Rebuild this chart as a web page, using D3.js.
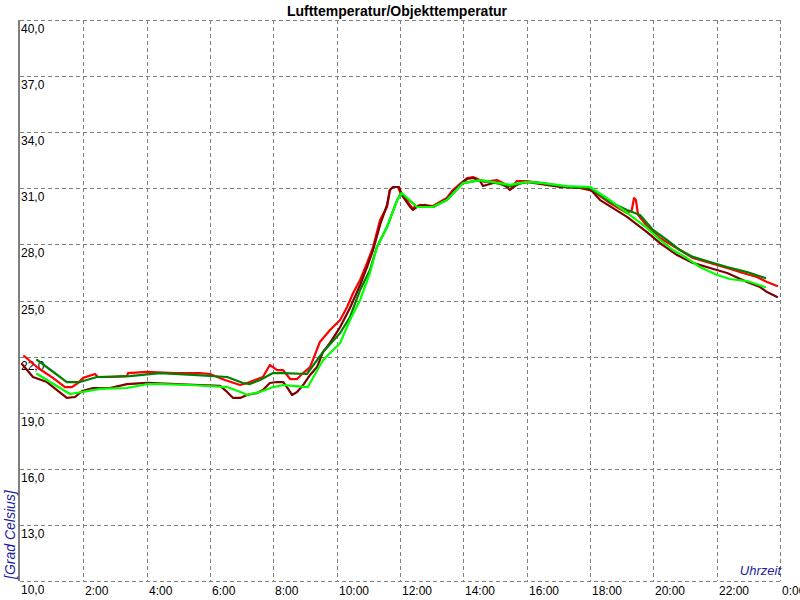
<!DOCTYPE html>
<html><head><meta charset="utf-8">
<script src="https://cdn.jsdelivr.net/npm/d3@7"></script>
<style>
html,body{margin:0;padding:0;background:#fff;}
svg{display:block;}
text{font-family:"Liberation Sans",Arial,sans-serif;}
</style></head>
<body>
<svg id="c" width="800" height="600"></svg>
<script>
const title = "Lufttemperatur/Objekttemperatur";
const yAxisTitle = "[Grad Celsius]";
const xAxisTitle = "Uhrzeit";
const yTicks = [10,13,16,19,22,25,28,31,34,37,40];
const yTickLabels = ["10,0","13,0","16,0","19,0","22,0","25,0","28,0","31,0","34,0","37,0","40,0"];
const xTicks = [2,4,6,8,10,12,14,16,18,20,22,24];
const xTickLabels = ["2:00","4:00","6:00","8:00","10:00","12:00","14:00","16:00","18:00","20:00","22:00","0:00"];

// [hour, °C]
const redSeries = [[0.13,22.03],[0.57,21.39],[1.04,20.86],[1.42,20.37],[1.64,20.37],[1.83,20.59],[1.99,20.86],[2.37,21.07],[2.46,20.91],[2.84,20.91],[3.38,20.96],[3.41,21.12],[4.01,21.18],[4.89,21.12],[5.68,21.12],[6.0,21.07],[6.47,20.75],[6.95,20.48],[7.17,20.59],[7.67,20.91],[7.89,21.55],[8.12,21.28],[8.31,21.28],[8.53,20.8],[8.75,20.8],[8.94,21.12],[9.16,21.44],[9.47,22.78],[9.79,23.42],[10.11,23.96],[10.33,24.65],[10.52,25.4],[10.74,26.1],[10.96,27.01],[11.15,27.86],[11.37,29.3],[11.59,30.0],[11.68,30.91],[11.78,31.07],[11.94,31.07],[12.0,30.8],[12.16,30.48],[12.38,29.95],[12.63,30.11],[13.04,30.05],[13.26,30.27],[13.48,30.48],[13.67,30.91],[13.89,31.23],[14.12,31.55],[14.31,31.6],[14.53,31.44],[14.68,31.34],[14.84,31.39],[15.06,31.44],[15.38,31.18],[15.54,31.07],[15.69,31.39],[16.01,31.39],[16.42,31.28],[17.05,31.12],[17.68,31.02],[18.09,30.86],[18.63,30.21],[19.17,29.68],[19.32,29.84],[19.39,30.48],[19.45,30.37],[19.52,29.57],[19.8,28.98],[20.21,28.34],[20.84,27.7],[21.25,27.27],[21.79,27.01],[22.33,26.74],[22.83,26.47],[23.27,26.26],[23.59,25.99],[23.91,25.78]];
const darkRedSeries = [[0.06,21.6],[0.41,20.91],[0.85,20.64],[1.36,19.95],[1.48,19.79],[1.74,19.84],[1.96,20.16],[2.31,20.32],[2.84,20.32],[3.38,20.53],[4.01,20.59],[5.68,20.48],[6.32,20.43],[6.54,20.11],[6.73,19.79],[6.95,19.79],[7.17,19.95],[7.48,20.05],[7.67,20.21],[7.89,20.59],[8.12,20.64],[8.31,20.64],[8.43,20.37],[8.59,19.95],[8.75,20.11],[8.94,20.48],[9.16,21.02],[9.38,21.44],[9.57,22.25],[9.79,22.73],[10.11,23.58],[10.42,24.6],[10.74,25.83],[10.96,26.79],[11.15,27.7],[11.37,29.04],[11.59,30.11],[11.68,30.91],[11.78,31.07],[11.97,31.07],[12.06,30.64],[12.32,30.0],[12.41,29.84],[12.57,30.05],[12.79,30.11],[13.04,30.0],[13.26,30.21],[13.48,30.43],[13.67,30.8],[13.89,31.18],[14.12,31.5],[14.31,31.55],[14.53,31.39],[14.62,31.12],[14.84,31.23],[15.06,31.34],[15.38,31.07],[15.47,30.91],[15.63,31.12],[15.79,31.28],[16.01,31.34],[16.42,31.23],[17.05,31.07],[17.68,31.02],[18.0,30.96],[18.32,30.37],[19.17,29.47],[19.8,28.66],[20.21,28.07],[20.75,27.43],[21.25,27.01],[21.79,26.74],[22.33,26.47],[22.96,25.99],[23.37,25.72],[23.59,25.45],[23.91,25.19]];
const darkGreenSeries = [[0.54,21.82],[1.01,21.23],[1.48,20.64],[1.89,20.64],[2.43,20.91],[3.47,20.96],[4.42,21.12],[5.46,21.02],[6.54,20.91],[7.04,20.59],[7.26,20.53],[7.58,20.75],[7.99,21.12],[8.31,21.12],[9.06,21.07],[9.57,22.25],[10.11,23.26],[10.42,24.12],[10.74,25.56],[11.05,26.63],[11.27,27.86],[11.59,28.93],[11.91,30.37],[12.03,30.75],[12.54,30.0],[13.04,30.0],[13.48,30.37],[13.99,31.28],[14.53,31.44],[15.16,31.23],[15.47,31.12],[16.01,31.34],[16.52,31.28],[17.27,31.07],[18.0,31.02],[18.63,30.27],[19.17,29.84],[19.58,29.57],[19.99,28.77],[20.43,28.24],[20.84,27.7],[21.25,27.33],[21.79,27.06],[22.33,26.79],[22.96,26.52],[23.53,26.2]];
const lightGreenSeries = [[0.54,21.07],[1.11,20.48],[1.58,20.0],[1.99,20.11],[2.53,20.27],[3.38,20.32],[4.01,20.53],[4.42,20.53],[5.37,20.48],[6.54,20.37],[7.04,20.05],[7.17,19.95],[7.58,20.11],[7.99,20.37],[8.31,20.48],[8.62,20.43],[9.09,20.37],[9.57,21.82],[10.11,22.73],[10.42,23.96],[10.74,25.03],[11.05,26.47],[11.27,27.86],[11.59,28.93],[11.91,30.37],[12.06,30.75],[12.54,30.0],[13.04,30.0],[13.48,30.37],[13.99,31.28],[14.53,31.44],[15.16,31.28],[15.47,31.18],[16.01,31.34],[16.52,31.28],[17.27,31.12],[18.0,31.07],[18.63,30.37],[19.17,29.68],[19.8,28.88],[20.21,28.24],[20.62,27.7],[21.06,27.27],[21.47,26.79],[22.01,26.36],[22.42,26.15],[22.96,26.04],[23.53,25.72]];

const svg = d3.select("#c");
const L = 20, R = 780, T = 20, B = 581;
const x = d3.scaleLinear().domain([0,24]).range([L,R]);
const y = d3.scaleLinear().domain([10,40]).range([B,T]);

// grid
const grid = svg.append("g").attr("stroke","#808080").attr("stroke-width",1)
  .attr("stroke-dasharray","4,3").attr("shape-rendering","crispEdges");
grid.selectAll("line.h").data(yTicks).enter().append("line")
  .attr("x1",L).attr("x2",R).attr("y1",d=>Math.round(y(d))+0.5).attr("y2",d=>Math.round(y(d))+0.5);
grid.selectAll("line.v").data(xTicks).enter().append("line")
  .attr("y1",T).attr("y2",B).attr("x1",d=>Math.round(x(d))+0.5).attr("x2",d=>Math.round(x(d))+0.5);

// left axis line
svg.append("line").attr("x1",19).attr("x2",19).attr("y1",T).attr("y2",B)
  .attr("stroke","#808080").attr("stroke-width",2);

// y tick labels
svg.append("clipPath").attr("id","lc").append("rect").attr("x",0).attr("y",0).attr("width",44).attr("height",600);
svg.append("g").selectAll("text").data(yTicks).enter().append("text")
  .attr("x",21).attr("y",d=>Math.round(y(d))+13)
  .attr("font-size",12).attr("fill","#000")
  .attr("clip-path",(d)=>d===10?"url(#lc)":null)
  .text((d,i)=>yTickLabels[i]);

// x tick labels
svg.append("g").selectAll("text").data(xTicks).enter().append("text")
  .attr("x",d=>Math.round(x(d))+2).attr("y",595)
  .attr("font-size",12).attr("fill","#000")
  .text((d,i)=>xTickLabels[i]);

// titles
svg.append("text").attr("x",397).attr("y",16).attr("text-anchor","middle")
  .attr("font-size",14).attr("font-weight","bold").attr("fill","#000").text(title);
svg.append("text").attr("x",781).attr("y",575).attr("text-anchor","end")
  .attr("font-size",13).attr("font-style","italic").attr("fill","#1c1ca0").text(xAxisTitle);
svg.append("text").attr("transform","translate(15,579) rotate(-90)")
  .attr("font-size",14).attr("font-style","italic").attr("fill","#1c1ca0").text(yAxisTitle);

// lines
const line = d3.line().x(d=>x(d[0])).y(d=>y(d[1]));
const series = [
  {data: redSeries, color:"#ff0000"},
  {data: darkRedSeries, color:"#800000"},
  {data: darkGreenSeries, color:"#008000"},
  {data: lightGreenSeries, color:"#00ff00"}
];
svg.append("g").selectAll("path").data(series).enter().append("path")
  .attr("d",d=>line(d.data)).attr("fill","none")
  .attr("stroke",d=>d.color).attr("stroke-width",2.2)
  .attr("stroke-linejoin","round").attr("stroke-linecap","round");
</script>
</body></html>
